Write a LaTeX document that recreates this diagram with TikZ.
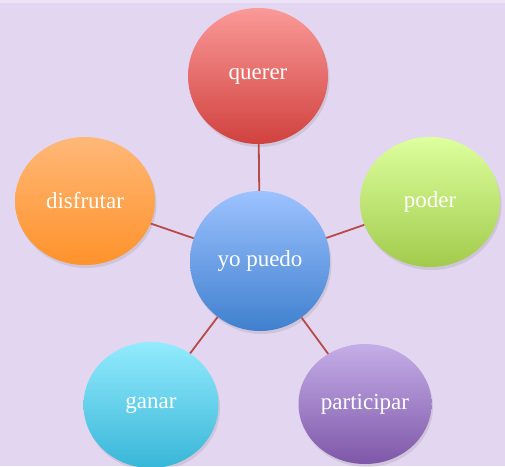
\documentclass[tikz,border=0pt]{standalone}
\usepackage{fontspec}
\setmainfont{Liberation Serif}
\usetikzlibrary{shapes.geometric, shadows}

\definecolor{bglilac}{HTML}{E3D6F0}
\definecolor{toplilac}{HTML}{EDE3F6}
\definecolor{spokered}{HTML}{B84A47}
\definecolor{querertop}{HTML}{FA9A98}
\definecolor{quererbot}{HTML}{D0413E}
\definecolor{disfrutartop}{HTML}{FFB878}
\definecolor{disfrutarbot}{HTML}{FF922B}
\definecolor{podertop}{HTML}{DDFF9E}
\definecolor{poderbot}{HTML}{A2CB4C}
\definecolor{puedotop}{HTML}{9DC2FF}
\definecolor{puedobot}{HTML}{3F80CE}
\definecolor{ganartop}{HTML}{93EBFD}
\definecolor{ganarbot}{HTML}{38B6D8}
\definecolor{participartop}{HTML}{C5AEE8}
\definecolor{participarbot}{HTML}{7E57A8}

\tikzset{
    bubble/.style={ellipse, inner sep=0pt, text=white,
        font=\fontsize{23}{26}\selectfont,
        drop shadow={shadow xshift=1.5pt, shadow yshift=-3pt, opacity=0.2}},
    spoke/.style={draw=spokered, line width=1.8pt}
}

\begin{document}
\begin{tikzpicture}[x=1pt,y=-1pt]
    \useasboundingbox (0,0) rectangle (505,466);
    \clip (0,0) rectangle (505,466);
    \fill [bglilac] (0,0) rectangle (505,466);
    \fill [toplilac] (0,0) rectangle (505,3);

    % centre
    \node[bubble, minimum width=140pt, minimum height=140pt, top color=puedotop, bottom color=puedobot] (yopuedo) at (260,261) {yo puedo};

    % outer ring
    \node[bubble, minimum width=140pt, minimum height=136pt, top color=querertop, bottom color=quererbot] (querer) at (258,76) {querer};
    \node[bubble, minimum width=140pt, minimum height=128pt, top color=disfrutartop, bottom color=disfrutarbot] (disfrutar) at (85,201) {disfrutar};
    \node[bubble, minimum width=140pt, minimum height=130pt, top color=podertop, bottom color=poderbot] (poder) at (430,202) {poder};
    \node[bubble, minimum width=135pt, minimum height=126pt, top color=ganartop, bottom color=ganarbot] (ganar) at (151,405) {ganar};
    \node[bubble, minimum width=133pt, minimum height=120pt, top color=participartop, bottom color=participarbot] (participar) at (365,404) {participar};

    \draw[spoke] (yopuedo) -- (querer);
    \draw[spoke] (yopuedo) -- (disfrutar);
    \draw[spoke] (yopuedo) -- (poder);
    \draw[spoke] (yopuedo) -- (ganar);
    \draw[spoke] (yopuedo) -- (participar);
\end{tikzpicture}
\end{document}
